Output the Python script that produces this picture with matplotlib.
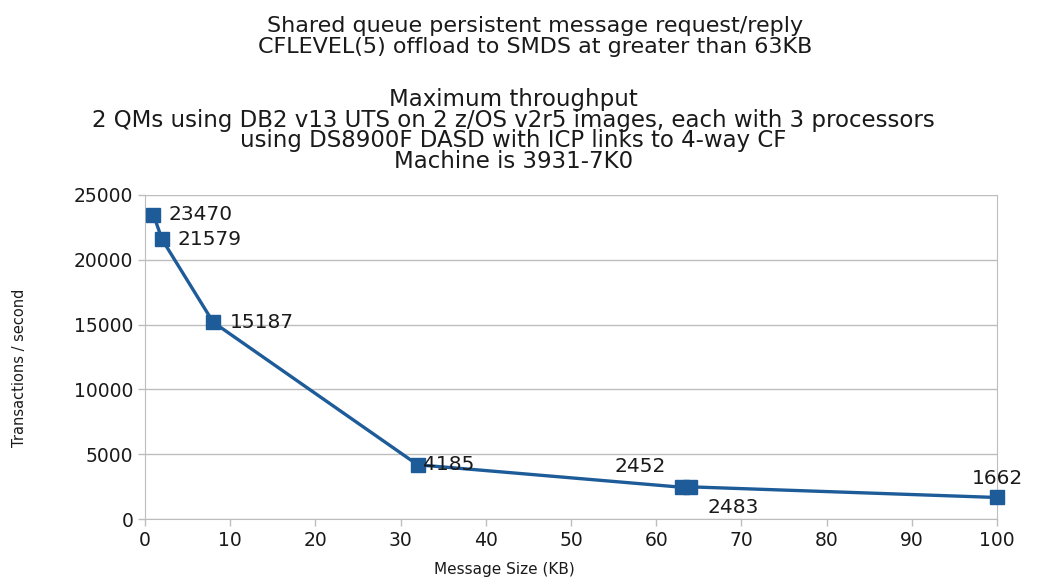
import matplotlib
matplotlib.use("Agg")
import matplotlib.pyplot as plt

# message size (KB) vs transactions/second
SIZES_KB = [1, 2, 8, 32, 63, 64, 100]
TPS = [23470, 21579, 15187, 4185, 2452, 2483, 1662]
# label offsets in points, per point
LABEL_OFFSETS = [(11, 0), (11, 0), (12, 0), (4, 0), (-30, 15), (31, -15), (0, 14)]
LABEL_HA = ["left", "left", "left", "left", "center", "center", "center"]

TITLE = ["Shared queue persistent message request/reply",
         "CFLEVEL(5) offload to SMDS at greater than 63KB"]
SUBTITLE = ["Maximum throughput",
            "2 QMs using DB2 v13 UTS on 2 z/OS v2r5 images, each with 3 processors",
            "using DS8900F DASD with ICP links to 4-way CF",
            "Machine is 3931-7K0"]

LINE_COLOR = "#1D5C98"
GRID_COLOR = "#BDBDBD"
TEXT_COLOR = "#1a1a1a"

plt.rcParams["font.family"] = ["DejaVu Sans"]

fig = plt.figure(figsize=(10.37, 5.88), dpi=100, facecolor="white")
ax = fig.add_axes([0.1398, 0.1173, 0.8216, 0.5511])

ax.plot(SIZES_KB, TPS, color=LINE_COLOR, linewidth=2.4, marker="s",
        markersize=10, markerfacecolor=LINE_COLOR, markeredgecolor=LINE_COLOR,
        zorder=3, clip_on=False)

for x, y, off, ha in zip(SIZES_KB, TPS, LABEL_OFFSETS, LABEL_HA):
    ax.annotate(f"{y}", (x, y), xytext=off, textcoords="offset points",
                ha=ha, va="center", fontsize=14.5, color=TEXT_COLOR, zorder=4)

ax.set_xlim(0, 100)
ax.set_ylim(0, 25000)
ax.set_xticks(range(0, 101, 10))
ax.set_yticks(range(0, 25001, 5000))
ax.tick_params(axis="both", labelsize=13.5, colors=GRID_COLOR, labelcolor=TEXT_COLOR,
               length=5, width=1.0, direction="out")
ax.grid(axis="y", color=GRID_COLOR, linewidth=1.0)
ax.set_axisbelow(True)
for side in ("top", "right", "left", "bottom"):
    ax.spines[side].set_color(GRID_COLOR)
ax.spines["top"].set_visible(False)

fig.text(0.486, 0.018, "Message Size (KB)", ha="center", va="bottom",
         fontsize=11, color=TEXT_COLOR)
fig.text(0.019, 0.375, "Transactions / second", ha="center", va="center",
         rotation=90, fontsize=10.5, color=TEXT_COLOR)

# title and subtitle each as one multi-line text, tight line spacing
fig.text(0.516, 0.938, "\n".join(TITLE), ha="center", va="center",
         multialignment="center", linespacing=1.05, fontsize=16, color=TEXT_COLOR)
fig.text(0.495, 0.778, "\n".join(SUBTITLE), ha="center", va="center",
         multialignment="center", linespacing=0.87, fontsize=16.5, color=TEXT_COLOR)

fig.savefig("out.png", dpi=100, facecolor="white")
